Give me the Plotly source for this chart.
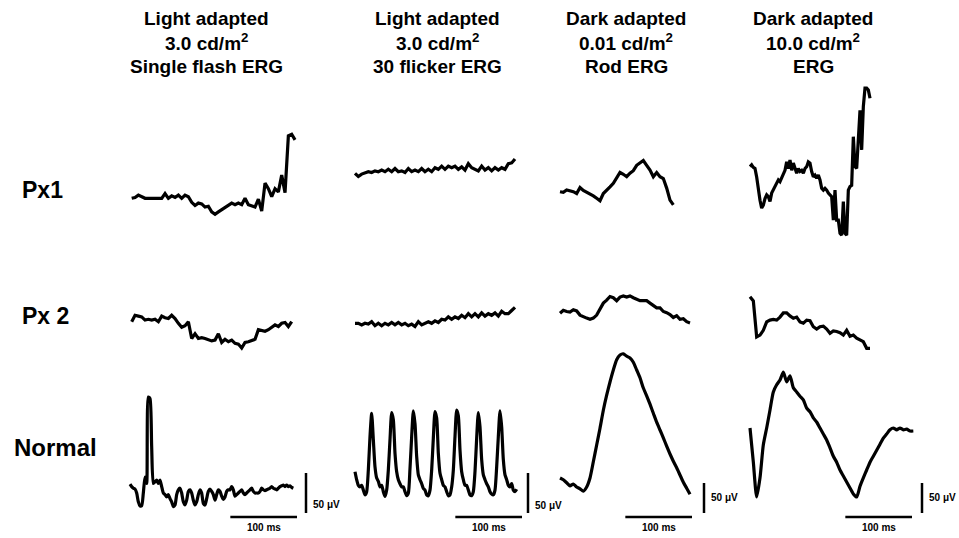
import plotly.graph_objects as go

# ---------------- data (amplitude in microvolts, sampled at fixed intervals) ----------------
DT = 5.0        # ms
DT_FINE = 2.5   # ms

column_titles = [
    ["Light adapted", "3.0 cd/m<sup>2</sup>", "Single flash ERG"],
    ["Light adapted", "3.0 cd/m<sup>2</sup>", "30 flicker ERG"],
    ["Dark adapted", "0.01 cd/m<sup>2</sup>", "Rod ERG"],
    ["Dark adapted", "10.0 cd/m<sup>2</sup>", "ERG"],
]
row_labels = ["Px1", "Px 2", "Normal"]
time_bar_label = "100 ms"
amp_bar_label = "50 \u03bcV"

# Row 1: Px1
px1_single_flash = [0, 1, 4, 2, 0, 0, 0, -1, 0, 0,
                    6, 0, 3, 1, 4, 0, 4, 2, -5, -9,
                    -6, -7, -11, -10, -17, -20, -17, -14, -11, -8,
                    -6, -8, -6, -8, 0, -8, -9, -11, -1, -16,
                    19, 12, 2, 12, 8, 29, 7, 78, 80, 73]
px1_flicker = [0, -4, -1, 1, 2, 1, 3, 2, 4, 2,
               5, 2, 6, 2, 3, 1, 6, 2, 4, 2,
               6, 2, 5, 2, 7, 5, 9, 5, 9, 7,
               9, 5, 8, 4, 12, 7, 5, 3, 9, 4,
               7, 3, 7, 4, 7, 5, 12, 13, 18]
px1_rod = [0, -1, 3, 2, 0, -3, 7, 2, -1, -3,
           -7, -11, -15, -3, 2, 8, 14, 22, 32, 29,
           25, 31, 35, 44, 48, 52, 44, 36, 25, 32,
           25, 22, 6, -14, -22]
px1_da10 = [0, 3, -1, -3, -17, -39, -56, -69, -64, -53,
            -47, -50, -58, -44, -39, -33, -28, -22, -25, -19,
            -11, -6, 8, -3, 11, -6, 6, -3, -11, -3,
            -8, -6, -11, -3, 0, 8, 6, -8, -17, -14,
            -19, -14, -22, -36, -39, -36, -39, -44, -47, -50,
            -89, -39, -89, -89, -111, -114, -58, -111, -114, -39,
            -33, -31, 50, 0, -3, 44, 94, 28, 100, 131,
            131, 128, 114]

# Row 2: Px 2
px2_single_flash = [0, 8, 7, 6, 2, 3, 2, 3, 0, 7,
                    5, 4, 8, 4, -2, -7, -5, 0, -21, -15,
                    -21, -20, -21, -23, -24, -23, -15, -26, -22, -25,
                    -23, -27, -28, -33, -26, -25, -23, -22, -10, -11,
                    -12, -10, -7, -4, -6, -2, -1, -6, 0]
px2_flicker = [0, 0, -2, 0, -1, 2, -3, 0, -3, 0,
               -2, 1, -2, 1, -2, 0, -3, -1, -4, 2,
               -2, 0, 2, 0, 3, 1, 5, 4, 8, 5,
               8, 6, 10, 7, 12, 8, 12, 8, 13, 9,
               12, 10, 13, 9, 15, 12, 12, 16, 20]
px2_rod = [0, 5, 3, 2, 6, 4, -3, -6, -8, -10,
           -8, -3, 8, 17, 22, 28, 26, 21, 27, 29,
           27, 29, 26, 24, 21, 21, 21, 17, 13, 9,
           9, 3, 1, -2, -7, -4, -10, -9, -14, -16]
px2_da10 = [0, -7, -67, -64, -56, -42, -39, -38, -39, -34,
            -27, -27, -32, -36, -34, -42, -44, -39, -40, -50,
            -54, -50, -49, -54, -61, -57, -58, -60, -64, -56,
            -66, -64, -69, -72, -75, -86, -86]

# Row 3: Normal
normal_single_flash = [1, -2, -4, -5, -10, -21, -26, -26, -10, 10,
                       2, 110, 108, 48, 2, 4, 6, 2, 6, -2,
                       -10, -12, -15, -12, -17, -21, -27, -25, -12, -6,
                       -4, -10, -21, -25, -19, -8, -6, -10, -19, -25,
                       -21, -12, -6, -10, -23, -25, -17, -8, -5, -8,
                       -12, -19, -12, -6, -8, -14, -18, -15, -8, -6,
                       -6, -2, -6, -14, -12, -10, -8, -6, -10, -12,
                       -10, -8, -6, -4, -8, -10, -10, -10, -8, -4,
                       -6, -7, -6, -5, -4, -2, -4, -5, -6, -4,
                       -2, -1, 0, -2, 0, -2, -1, -3, -4]
normal_flicker = [0, -10, -17, -19, -17, -23, -29, -25, 2, 44,
                  73, 40, 6, -8, -12, -19, -17, -25, -31, -23,
                  2, 40, 74, 65, 23, 0, -10, -15, -19, -19,
                  -25, -30, -27, 4, 44, 76, 60, 19, -4, -10,
                  -15, -21, -23, -29, -30, -23, 2, 42, 75, 67,
                  23, -2, -10, -17, -19, -25, -30, -29, -19, 2,
                  44, 77, 70, 27, 0, -10, -17, -17, -23, -29,
                  -30, -25, 0, 42, 74, 56, 15, -4, -10, -15,
                  -19, -25, -28, -29, -23, 6, 44, 76, 56, 15,
                  -4, -10, -17, -19, -15, -23, -25, -22]
normal_rod = [0, -3, -8, -13, -10, -15, -18, -22, -15, 0,
              27, 55, 83, 113, 138, 160, 180, 197, 205, 207,
              203, 200, 193, 180, 167, 150, 137, 123, 108, 93,
              80, 67, 53, 40, 28, 17, 5, -7, -17, -27]
normal_da10 = [0, -57, -115, -83, -28, 0, 30, 60, 72, 80,
               93, 77, 87, 67, 60, 53, 47, 33, 27, 17,
               10, 0, -10, -20, -33, -47, -57, -70, -80, -90,
               -100, -110, -115, -97, -83, -70, -57, -47, -37, -27,
               -17, -10, -3, 0, -3, 0, -3, -2, -5, -5]

panels = [
    [(px1_single_flash, DT), (px1_flicker, DT), (px1_rod, DT), (px1_da10, DT_FINE)],
    [(px2_single_flash, DT), (px2_flicker, DT), (px2_rod, DT), (px2_da10, DT)],
    [(normal_single_flash, DT_FINE), (normal_flicker, DT_FINE), (normal_rod, DT), (normal_da10, DT)],
]

# ---------------- layout / calibration (window pixels) ----------------
W, H = 959, 538
PX_PER_MS = 2.0 / 3.0                 # 100 ms = 66.7 px
UV_PER_PX = [1.25, 1.25, 5 / 3, 5 / 3]  # 50 uV bar height per column
COL_BANDS = [(118, 350), (343, 560), (548, 748), (738, 959)]
ROW_BANDS = [(78, 250), (262, 368), (345, 538)]
ORIGINS = [  # pixel position of (t=0, 0 uV) for each panel
    [(131.7, 198.3), (355, 173.3), (560, 191.7), (750, 166.7)],
    [(131.7, 321.7), (355, 323.3), (560, 313.3), (750, 296.7)],
    [(130, 485), (355, 471.7), (560, 478), (750, 428)],
]
# scale bar anchors: horizontal bar right end x, y ; vertical bar x, bottom y
SCALE_BARS = [(297, 517, 306, 513), (522, 517, 528, 513), (692, 517, 704, 513), (912, 517, 922, 513)]
UV_LABEL_Y = [504, 505, 497, 497]


def fx(px):
    return px / W


def fy(py):
    return 1 - py / H


FONT = "Liberation Sans, Arial, sans-serif"

fig = go.Figure()
layout_axes = {}


def to_data(r, c, px, py):
    ox, oy = ORIGINS[r][c]
    return (px - ox) / PX_PER_MS, (oy - py) * UV_PER_PX[c]


k = 0
for r in range(3):
    for c in range(4):
        k += 1
        vals, dt = panels[r][c]
        t = [i * dt for i in range(len(vals))]
        if r == 2:
            line = dict(color="black", width=3.2, shape="spline", smoothing=0.6)
        else:
            line = dict(color="black", width=3.2)
        fig.add_trace(go.Scatter(x=t, y=vals, mode="lines", line=line,
                                 xaxis=f"x{k}", yaxis=f"y{k}",
                                 showlegend=False, hoverinfo="skip"))
        left, right = COL_BANDS[c]
        top, bottom = ROW_BANDS[r]
        x0, y0 = to_data(r, c, left, bottom)
        x1, y1 = to_data(r, c, right, top)
        sfx = "" if k == 1 else str(k)
        layout_axes[f"xaxis{sfx}"] = dict(domain=[fx(left), fx(right)], range=[x0, x1],
                                         visible=False, fixedrange=True, anchor=f"y{k}")
        layout_axes[f"yaxis{sfx}"] = dict(domain=[fy(bottom), fy(top)], range=[y0, y1],
                                         visible=False, fixedrange=True, anchor=f"x{k}")

fig.update_layout(**layout_axes)

shapes = []
annotations = []
for c in range(4):
    k = 8 + c + 1
    hx, hy, vx, vy = SCALE_BARS[c]
    tx_end, v_h = to_data(2, c, hx, hy)
    shapes.append(dict(type="line", xref=f"x{k}", yref=f"y{k}",
                       x0=tx_end - 100, x1=tx_end, y0=v_h, y1=v_h,
                       line=dict(color="black", width=2.5)))
    tv, v_b = to_data(2, c, vx, vy)
    shapes.append(dict(type="line", xref=f"x{k}", yref=f"y{k}",
                       x0=tv, x1=tv, y0=v_b, y1=v_b + 50,
                       line=dict(color="black", width=2.5)))
    bar_mid_px = hx - 50 * PX_PER_MS
    annotations.append(dict(text=f"<b>{time_bar_label}</b>", xref="paper", yref="paper",
                            x=fx(bar_mid_px), y=fy(527), showarrow=False,
                            xanchor="center", yanchor="middle",
                            font=dict(size=10, color="black", family=FONT)))
    annotations.append(dict(text=f"<b>{amp_bar_label}</b>", xref="paper", yref="paper",
                            x=fx(vx + 5), y=fy(UV_LABEL_Y[c]), showarrow=False,
                            xanchor="left", yanchor="middle",
                            font=dict(size=10, color="black", family=FONT)))

TITLE_X = [206, 437, 626, 813]
TITLE_Y = [19, 42, 66]
for c in range(4):
    for i, line in enumerate(column_titles[c]):
        annotations.append(dict(text=f"<b>{line}</b>", xref="paper", yref="paper",
                                x=fx(TITLE_X[c]), y=fy(TITLE_Y[i]), showarrow=False,
                                xanchor="center", yanchor="middle",
                                font=dict(size=19, color="black", family=FONT)))

LABEL_POS = [(20, 190, 23), (20, 316, 23), (12, 447, 24)]
for lbl, (lx, ly, fs) in zip(row_labels, LABEL_POS):
    annotations.append(dict(text=f"<b>{lbl}</b>", xref="paper", yref="paper",
                            x=fx(lx), y=fy(ly), showarrow=False,
                            xanchor="left", yanchor="middle",
                            font=dict(size=fs, color="black", family=FONT)))

fig.update_layout(width=W, height=H, margin=dict(l=0, r=0, t=0, b=0),
                  paper_bgcolor="white", plot_bgcolor="rgba(0,0,0,0)",
                  shapes=shapes, annotations=annotations)

fig.write_html("out.html", config={"displayModeBar": False, "staticPlot": True},
               post_script="document.body.style.margin='0';document.body.style.overflow='hidden';")
